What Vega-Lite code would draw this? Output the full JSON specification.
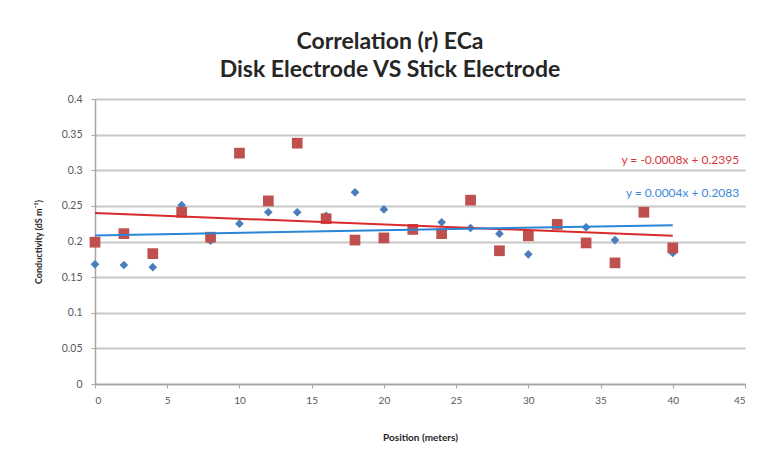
{
  "$schema": "https://vega.github.io/schema/vega-lite/v6.json",
  "autosize": "none",
  "width": 650,
  "height": 285,
  "padding": {"left": 95, "top": 99, "right": 18, "bottom": 75},
  "background": "white",
  "config": {
    "font": "Lato",
    "view": {"stroke": null},
    "axisX": {
      "grid": false,
      "domainColor": "#a6a6a6",
      "domainWidth": 1.5,
      "tickColor": "#a6a6a6",
      "tickSize": 4,
      "labelPadding": 7,
      "labelFontSize": 10,
      "labelColor": "#595959",
      "labelFont": "Lato",
      "titleFontSize": 10,
      "titleFontWeight": "bold",
      "titleColor": "#262626",
      "titleFont": "Lato",
      "titlePadding": 27
    },
    "axisY": {
      "grid": true,
      "gridColor": "#c8c8c8",
      "gridWidth": 2,
      "domainColor": "#a6a6a6",
      "domainWidth": 1.5,
      "tickColor": "#a6a6a6",
      "tickSize": 4,
      "labelPadding": 9,
      "labelFontSize": 10.5,
      "labelColor": "#595959",
      "labelFont": "Lato",
      "titleFontSize": 9,
      "titleFontWeight": "bold",
      "titleColor": "#262626",
      "titleFont": "Lato",
      "titlePadding": 18
    }
  },
  "title": {
    "text": "Correlation (r) ECa",
    "subtitle": "Disk Electrode VS Stick Electrode",
    "anchor": "middle",
    "dx": -30,
    "fontSize": 23,
    "fontWeight": "bold",
    "color": "#262626",
    "subtitleFontSize": 23,
    "subtitleFontWeight": "bold",
    "subtitleColor": "#262626",
    "subtitlePadding": 5,
    "offset": 12,
    "font": "Lato",
    "subtitleFont": "Lato"
  },
  "data": {
    "values": [
      {"position": 0, "series": "Disk", "ec": 0.168},
      {"position": 2, "series": "Disk", "ec": 0.167},
      {"position": 4, "series": "Disk", "ec": 0.164},
      {"position": 6, "series": "Disk", "ec": 0.251},
      {"position": 8, "series": "Disk", "ec": 0.201},
      {"position": 10, "series": "Disk", "ec": 0.225},
      {"position": 12, "series": "Disk", "ec": 0.241},
      {"position": 14, "series": "Disk", "ec": 0.241},
      {"position": 16, "series": "Disk", "ec": 0.236},
      {"position": 18, "series": "Disk", "ec": 0.269},
      {"position": 20, "series": "Disk", "ec": 0.245},
      {"position": 22, "series": "Disk", "ec": 0.215},
      {"position": 24, "series": "Disk", "ec": 0.227},
      {"position": 26, "series": "Disk", "ec": 0.219},
      {"position": 28, "series": "Disk", "ec": 0.211},
      {"position": 30, "series": "Disk", "ec": 0.182},
      {"position": 32, "series": "Disk", "ec": 0.222},
      {"position": 34, "series": "Disk", "ec": 0.220},
      {"position": 36, "series": "Disk", "ec": 0.202},
      {"position": 38, "series": "Disk", "ec": 0.240},
      {"position": 40, "series": "Disk", "ec": 0.184},
      {"position": 0, "series": "Stick", "ec": 0.199},
      {"position": 2, "series": "Stick", "ec": 0.211},
      {"position": 4, "series": "Stick", "ec": 0.183},
      {"position": 6, "series": "Stick", "ec": 0.241},
      {"position": 8, "series": "Stick", "ec": 0.206},
      {"position": 10, "series": "Stick", "ec": 0.324},
      {"position": 12, "series": "Stick", "ec": 0.257},
      {"position": 14, "series": "Stick", "ec": 0.338},
      {"position": 16, "series": "Stick", "ec": 0.232},
      {"position": 18, "series": "Stick", "ec": 0.202},
      {"position": 20, "series": "Stick", "ec": 0.205},
      {"position": 22, "series": "Stick", "ec": 0.217},
      {"position": 24, "series": "Stick", "ec": 0.211},
      {"position": 26, "series": "Stick", "ec": 0.258},
      {"position": 28, "series": "Stick", "ec": 0.187},
      {"position": 30, "series": "Stick", "ec": 0.208},
      {"position": 32, "series": "Stick", "ec": 0.224},
      {"position": 34, "series": "Stick", "ec": 0.198},
      {"position": 36, "series": "Stick", "ec": 0.170},
      {"position": 38, "series": "Stick", "ec": 0.241},
      {"position": 40, "series": "Stick", "ec": 0.191}
    ]
  },
  "layer": [
    {
      "transform": [{"filter": "datum.series === 'Disk'"}],
      "mark": {"type": "point", "shape": "diamond", "filled": true, "size": 75, "color": "#4a7ebb", "opacity": 1},
      "encoding": {
        "x": {"field": "position", "type": "quantitative", "scale": {"domain": [0, 45], "nice": false, "zero": false}, "axis": {"title": "Position (meters)", "values": [0, 5, 10, 15, 20, 25, 30, 35, 40, 45]}},
        "y": {"field": "ec", "type": "quantitative", "scale": {"domain": [0, 0.4], "nice": false, "zero": false}, "axis": {"title": "Conductivity (dS m⁻¹)", "values": [0, 0.05, 0.1, 0.15, 0.2, 0.25, 0.3, 0.35, 0.4], "format": ".2~f"}}
      }
    },
    {
      "transform": [{"filter": "datum.series === 'Stick'"}],
      "mark": {"type": "point", "shape": "square", "filled": true, "size": 115, "color": "#c0504d", "opacity": 1},
      "encoding": {
        "x": {"field": "position", "type": "quantitative", "scale": {"domain": [0, 45], "nice": false, "zero": false}, "axis": {"title": "Position (meters)", "values": [0, 5, 10, 15, 20, 25, 30, 35, 40, 45]}},
        "y": {"field": "ec", "type": "quantitative", "scale": {"domain": [0, 0.4], "nice": false, "zero": false}, "axis": {"title": "Conductivity (dS m⁻¹)", "values": [0, 0.05, 0.1, 0.15, 0.2, 0.25, 0.3, 0.35, 0.4], "format": ".2~f"}}
      }
    },
    {
      "transform": [
        {"filter": "datum.series === 'Stick'"},
        {"regression": "ec", "on": "position", "extent": [0, 40]}
      ],
      "mark": {"type": "line", "color": "#d92b2b", "strokeWidth": 2},
      "encoding": {
        "x": {"field": "position", "type": "quantitative", "scale": {"domain": [0, 45], "nice": false, "zero": false}, "axis": {"title": "Position (meters)", "values": [0, 5, 10, 15, 20, 25, 30, 35, 40, 45]}},
        "y": {"field": "ec", "type": "quantitative", "scale": {"domain": [0, 0.4], "nice": false, "zero": false}, "axis": {"title": "Conductivity (dS m⁻¹)", "values": [0, 0.05, 0.1, 0.15, 0.2, 0.25, 0.3, 0.35, 0.4], "format": ".2~f"}}
      }
    },
    {
      "transform": [
        {"filter": "datum.series === 'Disk'"},
        {"regression": "ec", "on": "position", "extent": [0, 40]}
      ],
      "mark": {"type": "line", "color": "#2a86d6", "strokeWidth": 2},
      "encoding": {
        "x": {"field": "position", "type": "quantitative", "scale": {"domain": [0, 45], "nice": false, "zero": false}, "axis": {"title": "Position (meters)", "values": [0, 5, 10, 15, 20, 25, 30, 35, 40, 45]}},
        "y": {"field": "ec", "type": "quantitative", "scale": {"domain": [0, 0.4], "nice": false, "zero": false}, "axis": {"title": "Conductivity (dS m⁻¹)", "values": [0, 0.05, 0.1, 0.15, 0.2, 0.25, 0.3, 0.35, 0.4], "format": ".2~f"}}
      }
    },
    {
      "data": {"values": [{"label": "y = -0.0008x + 0.2395"}]},
      "mark": {"type": "text", "align": "right", "baseline": "middle", "fontSize": 12, "color": "#d6393b", "font": "Lato"},
      "encoding": {
        "x": {"datum": 44.6, "type": "quantitative", "scale": {"domain": [0, 45], "nice": false, "zero": false}, "axis": {"title": "Position (meters)", "values": [0, 5, 10, 15, 20, 25, 30, 35, 40, 45]}},
        "y": {"datum": 0.314, "type": "quantitative", "scale": {"domain": [0, 0.4], "nice": false, "zero": false}, "axis": {"title": "Conductivity (dS m⁻¹)", "values": [0, 0.05, 0.1, 0.15, 0.2, 0.25, 0.3, 0.35, 0.4], "format": ".2~f"}},
        "text": {"field": "label", "type": "nominal"}
      }
    },
    {
      "data": {"values": [{"label": "y = 0.0004x + 0.2083"}]},
      "mark": {"type": "text", "align": "right", "baseline": "middle", "fontSize": 12, "color": "#3a8ad6", "font": "Lato"},
      "encoding": {
        "x": {"datum": 44.6, "type": "quantitative", "scale": {"domain": [0, 45], "nice": false, "zero": false}, "axis": {"title": "Position (meters)", "values": [0, 5, 10, 15, 20, 25, 30, 35, 40, 45]}},
        "y": {"datum": 0.268, "type": "quantitative", "scale": {"domain": [0, 0.4], "nice": false, "zero": false}, "axis": {"title": "Conductivity (dS m⁻¹)", "values": [0, 0.05, 0.1, 0.15, 0.2, 0.25, 0.3, 0.35, 0.4], "format": ".2~f"}},
        "text": {"field": "label", "type": "nominal"}
      }
    }
  ]
}
